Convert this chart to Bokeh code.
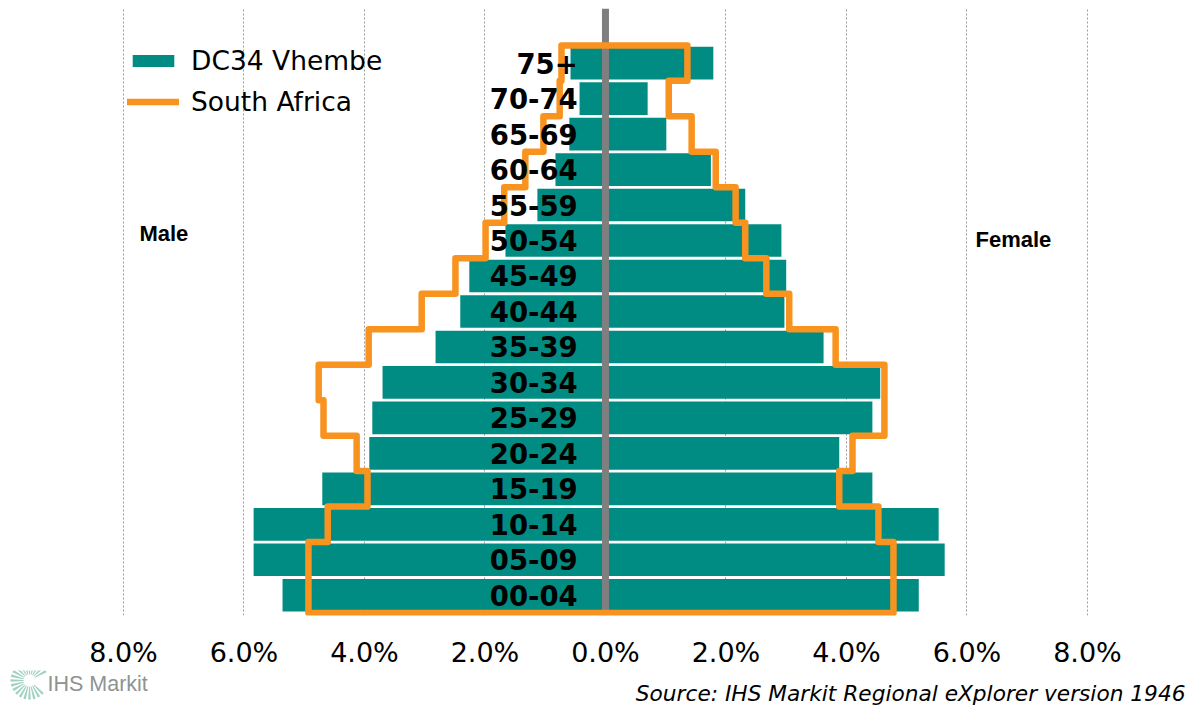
from bokeh.plotting import figure
from bokeh.layouts import column
from bokeh.models import FixedTicker, Legend, LegendItem
from bokeh.core.properties import value
from bokeh.embed import file_html
from bokeh.resources import INLINE

ages = ["00-04", "05-09", "10-14", "15-19", "20-24", "25-29", "30-34", "35-39",
        "40-44", "45-49", "50-54", "55-59", "60-64", "65-69", "70-74", "75+"]
# DC34 Vhembe share of population (%)
male_vhembe = [5.36, 5.84, 5.84, 4.70, 3.92, 3.87, 3.70, 2.82, 2.41, 2.26, 1.66, 1.13,
               0.83, 0.60, 0.43, 0.58]
female_vhembe = [5.20, 5.63, 5.53, 4.43, 3.88, 4.43, 4.56, 3.62, 2.97, 3.00, 2.92, 2.32,
                 1.75, 1.01, 0.70, 1.79]
# South Africa share of population (%)
male_sa = [4.93, 4.93, 4.61, 3.95, 4.13, 4.68, 4.76, 3.93, 3.05, 2.49, 1.99, 1.68,
           1.33, 1.03, 0.76, 0.73]
female_sa = [4.78, 4.78, 4.53, 3.88, 4.10, 4.63, 4.63, 3.82, 3.05, 2.67, 2.32, 2.16,
             1.83, 1.43, 1.05, 1.36]
tick_values = [-8, -6, -4, -2, 0, 2, 4, 6, 8]
tick_labels = ["8.0%", "6.0%", "4.0%", "2.0%", "0.0%", "2.0%", "4.0%", "6.0%", "8.0%"]
source_text = "Source: IHS Markit Regional eXplorer version 1946"

TEAL = "#008C83"
ORANGE = "#F8931F"
GREY = "#7F7F7F"

n = len(ages)
idx = list(range(n))

p = figure(width=1190, height=670, x_range=(-10.041, 9.710), y_range=(-0.57, 16.54),
           output_backend="svg", toolbar_location=None, title=None,
           min_border_left=0, min_border_right=0, min_border_top=8, min_border_bottom=53)
p.outline_line_color = None
p.yaxis.visible = False
p.ygrid.visible = False
p.xgrid.ticker = FixedTicker(ticks=[-8, -6, -4, -2, 2, 4, 6, 8])
p.xgrid.grid_line_color = "#9A9A9A"
p.xgrid.grid_line_dash = "2 2"
p.xgrid.grid_line_width = 1

ax = p.xaxis[0]
ax.ticker = FixedTicker(ticks=tick_values)
ax.major_label_overrides = {v: t for v, t in zip(tick_values, tick_labels)}
ax.major_label_text_font = "DejaVu Sans"
ax.major_label_text_font_size = "27px"
ax.major_label_text_color = "black"
ax.axis_line_color = None
ax.major_tick_line_color = None
ax.minor_tick_line_color = None
ax.major_tick_out = 0
ax.major_tick_in = 0
ax.major_label_standoff = 21

rm = p.hbar(y=idx, left=[-v for v in male_vhembe], right=0, height=0.92,
            fill_color=TEAL, line_color=None)
p.hbar(y=idx, left=0, right=female_vhembe, height=0.92, fill_color=TEAL, line_color=None)

p.segment(x0=[0], y0=[-0.5], x1=[0], y1=[16.54], line_color=GREY, line_width=7)

# South Africa outline as a closed step path
xs, ys = [], []
for i in range(n):
    xs += [-male_sa[i], -male_sa[i]]
    ys += [i - 0.5, i + 0.5]
for i in range(n - 1, -1, -1):
    xs += [female_sa[i], female_sa[i]]
    ys += [i + 0.5, i - 0.5]
xs.append(xs[0])
ys.append(ys[0])
rl = p.line(xs, ys, line_color=ORANGE, line_width=6.5, line_join="round", line_cap="round")

p.text(x=-0.46, y=idx, text=ages, text_align="right", text_baseline="middle",
       text_font=value("DejaVu Sans"), text_font_style="bold", text_font_size="27.5px",
       text_color="black")

p.text(x=[-7.33, 6.77], y=[10.19, 10.03], text=["Male", "Female"], text_align="center",
       text_baseline="middle", text_font=value("Liberation Sans"), text_font_style="bold",
       text_font_size="22px", text_color="black")

legend = Legend(items=[LegendItem(label="DC34 Vhembe", renderers=[rm]),
                       LegendItem(label="South Africa", renderers=[rl])],
                location=(127, 498), glyph_width=52, glyph_height=15, label_standoff=12,
                label_text_font="DejaVu Sans", label_text_font_size="26.5px",
                label_text_color="black", padding=0, margin=0, spacing=10,
                border_line_color=None, background_fill_alpha=0)
p.add_layout(legend)

# footer strip: logo and source note
f = figure(width=1190, height=41, x_range=(0, 1190), y_range=(0, 41),
           output_backend="svg", toolbar_location=None, title=None,
           min_border=0)
f.axis.visible = False
f.grid.visible = False
f.outline_line_color = None
ray_angles = [a * 0.2618 for a in range(24) if a not in (22, 23, 0, 1)]
f.annular_wedge(x=29, y=31, inner_radius=6, outer_radius=19,
                start_angle=[a - 0.07 for a in ray_angles],
                end_angle=[a + 0.07 for a in ray_angles],
                fill_color="#A3D2C3", line_color=None)
f.text(x=[47], y=[28], text=["IHS Markit"], text_align="left", text_baseline="middle",
       text_font=value("Liberation Sans"), text_font_size="21.5px", text_color="#8C9494")
f.text(x=[1185], y=[18], text=[source_text], text_align="right",
       text_baseline="middle", text_font=value("DejaVu Sans"), text_font_style="italic",
       text_font_size="21.7px", text_color="black")

open("out.html", "w").write(file_html(column(p, f, spacing=0), INLINE))
